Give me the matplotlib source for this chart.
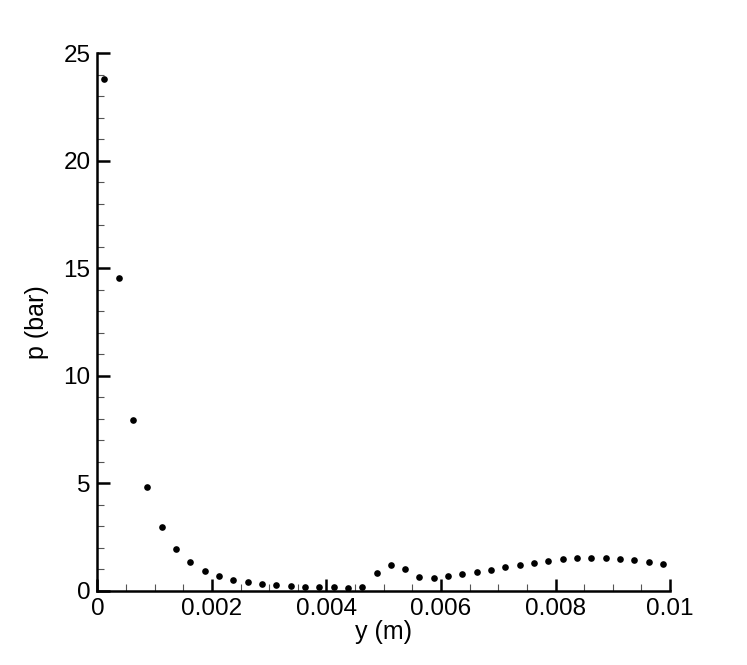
import numpy as np
import matplotlib
matplotlib.use("Agg")
import matplotlib.pyplot as plt
from matplotlib.ticker import MultipleLocator

plt.rcParams["font.family"] = ["Liberation Sans", "DejaVu Sans"]

# Pressure profile
y_m = [0.000125, 0.000375, 0.000625, 0.000875, 0.001125, 0.001375, 0.001625, 0.001875,
       0.002125, 0.002375, 0.002625, 0.002875, 0.003125, 0.003375, 0.003625, 0.003875,
       0.004125, 0.004375, 0.004625, 0.004875, 0.005125, 0.005375, 0.005625, 0.005875,
       0.006125, 0.006375, 0.006625, 0.006875, 0.007125, 0.007375, 0.007625, 0.007875,
       0.008125, 0.008375, 0.008625, 0.008875, 0.009125, 0.009375, 0.009625, 0.009875]
p_bar = [23.82, 14.53, 7.95, 4.84, 2.98, 1.93, 1.32, 0.93,
         0.68, 0.51, 0.39, 0.31, 0.25, 0.21, 0.19, 0.17,
         0.16, 0.14, 0.16, 0.81, 1.20, 1.00, 0.65, 0.59,
         0.68, 0.78, 0.87, 0.98, 1.10, 1.21, 1.30, 1.38,
         1.46, 1.51, 1.54, 1.54, 1.48, 1.41, 1.34, 1.26]

x_ticks = [0, 0.002, 0.004, 0.006, 0.008, 0.01]
x_ticklabels = ["0", "0.002", "0.004", "0.006", "0.008", "0.01"]
y_ticks = [0, 5, 10, 15, 20, 25]

fig = plt.figure(figsize=(7.47, 6.65), dpi=100)
ax = fig.add_axes([0.1303, 0.1117, 0.7667, 0.8081])

ax.plot(y_m, p_bar, "o", color="black", markersize=4.8, markeredgewidth=0, clip_on=False)

ax.set_xlim(0, 0.01)
ax.set_ylim(0, 25)
ax.set_xticks(x_ticks)
ax.set_xticklabels(x_ticklabels)
ax.set_yticks(y_ticks)
ax.xaxis.set_minor_locator(MultipleLocator(0.0005))
ax.yaxis.set_minor_locator(MultipleLocator(1))

for side in ["top", "right"]:
    ax.spines[side].set_visible(False)
for side in ["left", "bottom"]:
    ax.spines[side].set_linewidth(1.8)

ax.tick_params(which="major", direction="in", length=9, width=1.8, labelsize=17.5, pad=5)
ax.tick_params(which="minor", direction="in", length=5, width=0.8, color="#555555")

ax.set_xlabel("y (m)", fontsize=18, labelpad=0)
ax.set_ylabel("p (bar)", fontsize=18, labelpad=10)

fig.savefig("out.png", dpi=100)
